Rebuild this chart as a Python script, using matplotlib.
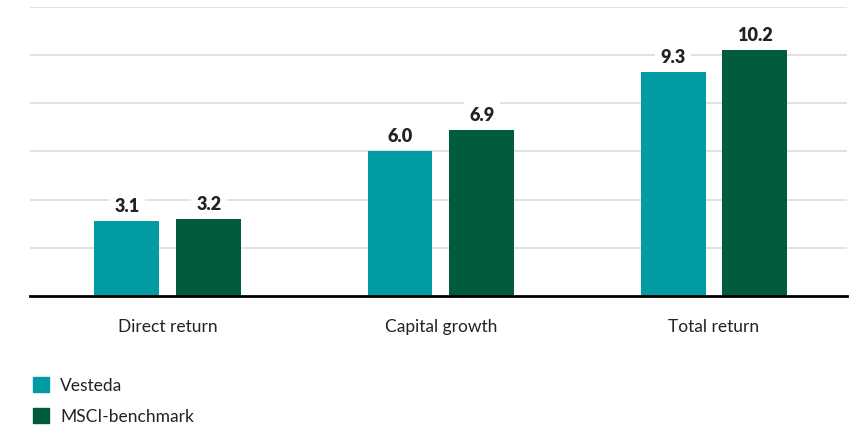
import matplotlib.pyplot as plt
import numpy as np
from matplotlib.patches import Patch

categories = ['Direct return', 'Capital growth', 'Total return']
vesteda = [3.1, 6.0, 9.3]
msci = [3.2, 6.9, 10.2]
series_names = ['Vesteda', 'MSCI-benchmark']
colors = ['#009BA3', '#005C3A']

plt.rcParams['font.family'] = ['Lato', 'DejaVu Sans']

fig = plt.figure(figsize=(8.65, 4.31), dpi=100)
ax = fig.add_axes([30 / 865, 1 - 297 / 431, (847 - 30) / 865, (297 - 7.5) / 431])

x = np.arange(len(categories))
w = 0.238
off = 0.15
for vals, dx, c in [(vesteda, -off, colors[0]), (msci, off, colors[1])]:
    bars = ax.bar(x + dx, vals, width=w, color=c, zorder=3)
    for b, v in zip(bars, vals):
        ax.annotate(f'{v:.1f}', (b.get_x() + b.get_width() / 2, v),
                    xytext=(0, 11), textcoords='offset points', ha='center', va='center',
                    fontsize=13, fontweight='heavy', color='#222222', zorder=2,
                    bbox=dict(boxstyle='square,pad=0.3', fc='white', ec='none'))

ax.set_xlim(-0.505, 2.487)
ax.set_ylim(0, 12)
ax.set_yticks(np.arange(2, 13, 2))
ax.yaxis.grid(True, color='#DCDDD2', lw=1.2, zorder=0)
ax.tick_params(axis='y', left=False, labelleft=False)
ax.tick_params(axis='x', bottom=False, pad=12, labelsize=12.5, labelcolor='#222222')
ax.set_xticks(x)
ax.set_xticklabels(categories)
for s in ['top', 'right', 'left']:
    ax.spines[s].set_visible(False)
ax.spines['bottom'].set_linewidth(2)
ax.spines['bottom'].set_color('black')
ax.spines['bottom'].set_zorder(5)

handles = [Patch(color=c) for c in colors]
fig.legend(handles, series_names, loc='upper left', bbox_to_anchor=(17 / 865, 1 - 362 / 431),
           frameon=False, fontsize=12.5, handlelength=0.95, handleheight=0.95,
           handletextpad=0.65, labelspacing=0.85, labelcolor='#222222')

fig.savefig('out.png', dpi=100)
